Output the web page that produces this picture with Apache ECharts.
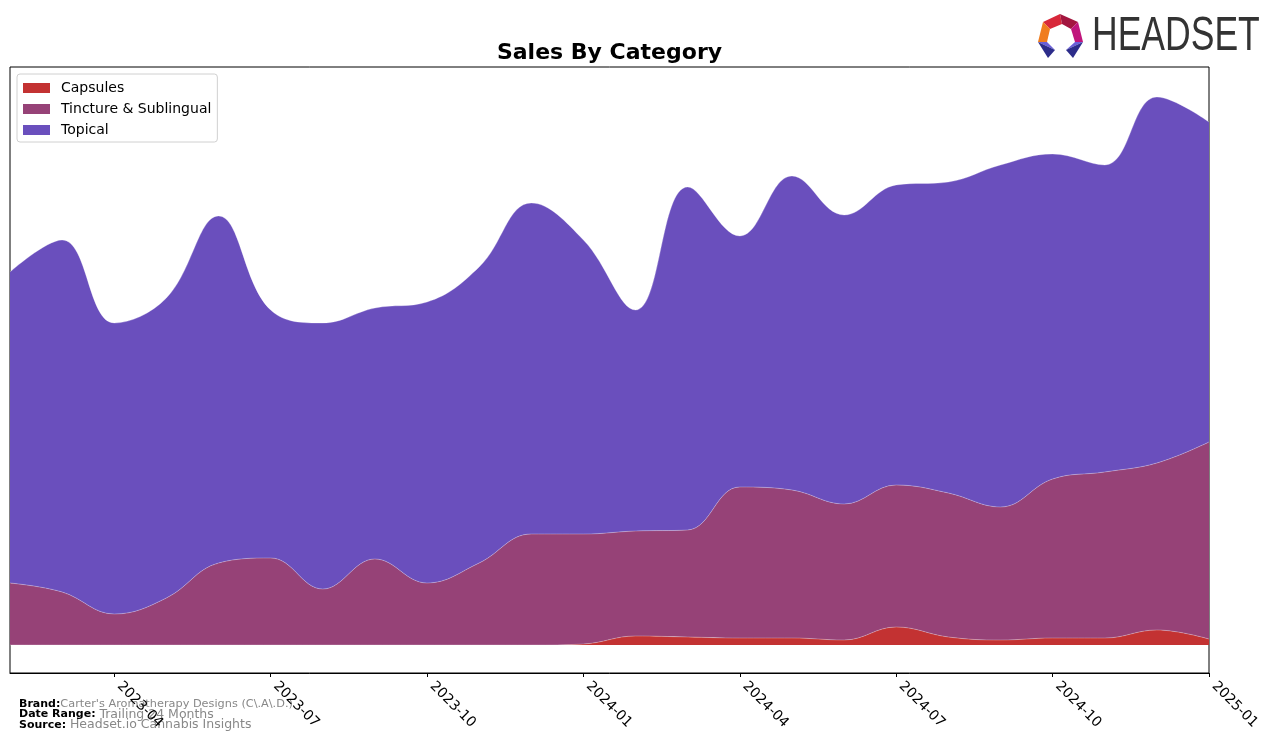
<!DOCTYPE html>
<html>
<head>
<meta charset="utf-8">
<script src="https://cdn.jsdelivr.net/npm/echarts@6/dist/echarts.min.js"></script>
<style>
html,body{margin:0;padding:0;background:#fff;}
#chart{width:1276px;height:743px;}
</style>
</head>
<body>
<div id="chart"></div>
<script>
// ---- data (monthly, arbitrary sales units) ----
const months = ['2023-02','2023-03','2023-04','2023-05','2023-06','2023-07','2023-08','2023-09','2023-10','2023-11','2023-12','2024-01','2024-02','2024-03','2024-04','2024-05','2024-06','2024-07','2024-08','2024-09','2024-10','2024-11','2024-12','2025-01'];
const capsules = [0,0,0,0,0,0,0,0,0,0,0,1,9,8,7,7,5,18,8,5,7,7,15,6];
const tincture = [62,53,31,47,82,87,56,86,62,82,111,110,105,107,151,148,136,142,144,133,159,166,167,197];
const topical  = [311,352,291,300,347,248,266,251,281,296,331,294,221,343,251,314,289,300,311,342,325,307,366,320];
const tickLabels = ['2023-04','2023-07','2023-10','2024-01','2024-04','2024-07','2024-10','2025-01'];
const seriesNames = ['Capsules','Tincture & Sublingual','Topical'];
const colors = ['#c33232','#964277','#6a4fbd'];

const showTick = (idx) => tickLabels.indexOf(months[idx]) >= 0;

const chart = echarts.init(document.getElementById('chart'), null, {renderer:'canvas'});
const font = 'DejaVu Sans';

const mkSeries = (name, arr, color) => ({
  name, type:'line', stack:'total', data: arr, smooth:0.4, symbol:'none',
  lineStyle:{width:0.8, color:'rgba(255,255,255,0.35)'},
  areaStyle:{color, opacity:1}, itemStyle:{color},
  emphasis:{disabled:true}
});

chart.setOption({
  animation:false,
  backgroundColor:'#fff',
  textStyle:{fontFamily:font},
  grid:{left:10, right:67, top:67, bottom:70, show:true, borderColor:'#000', borderWidth:1, backgroundColor:'transparent'},
  legend:{
    orient:'vertical', left:17, top:74, data:seriesNames,
    itemWidth:27, itemHeight:10, itemGap:5, icon:'rect',
    padding:[6,6,4,6],
    borderColor:'#d0d0d0', borderWidth:1, borderRadius:3, backgroundColor:'rgba(255,255,255,0.85)',
    textStyle:{fontFamily:font, fontSize:14, color:'#000', lineHeight:16, padding:[0,0,0,6]},
    selectedMode:false
  },
  xAxis:{
    type:'category', data:months, boundaryGap:false,
    axisLine:{show:true, onZero:false, lineStyle:{color:'#000', width:1}},
    axisTick:{show:true, interval:(i)=>showTick(i), length:4, lineStyle:{color:'#000'}},
    axisLabel:{interval:(i)=>showTick(i), rotate:-45, fontFamily:font, fontSize:14, color:'#000', margin:6, padding:[0,0,0,7]},
    splitLine:{show:false}
  },
  yAxis:{type:'value', min:-28, max:578, show:false},
  series:[
    mkSeries(seriesNames[0], capsules, colors[0]),
    mkSeries(seriesNames[1], tincture, colors[1]),
    mkSeries(seriesNames[2], topical, colors[2])
  ],
  graphic:[
    {type:'text', x:609.5, y:53.5, style:{text:'Sales By Category', font:'bold 22px "DejaVu Sans"', fill:'#000', align:'center', verticalAlign:'middle'}},
    {type:'text', x:19, y:714.5, style:{
      text:'{b|Brand:}{g1|Carter\'s Aromatherapy Designs (C\\.A\\.D.)}\n{b|Date Range: }{g2|Trailing 24 Months}\n{b|Source: }{g2|Headset.io Cannabis Insights}',
      verticalAlign:'middle', lineHeight:10.7,
      rich:{
        b:{font:'bold 11px "DejaVu Sans"', fill:'#000', lineHeight:10.7},
        g1:{font:'11.3px "DejaVu Sans"', fill:'#888', lineHeight:10.7},
        g2:{font:'12.5px "DejaVu Sans"', fill:'#888', lineHeight:10.7}
      }}},
    // logo icon
    {type:'polygon', shape:{points:[[1043,22],[1060,14],[1062,24],[1050,29]]}, style:{fill:'#d8283a'}},
    {type:'polygon', shape:{points:[[1060,14],[1078,22],[1071,29],[1062,24]]}, style:{fill:'#a3163f'}},
    {type:'polygon', shape:{points:[[1078,22],[1083,42],[1075,42],[1071,29]]}, style:{fill:'#c0157c'}},
    {type:'polygon', shape:{points:[[1043,22],[1050,29],[1047,42],[1038,42]]}, style:{fill:'#f07d1e'}},
    {type:'polygon', shape:{points:[[1038,42],[1047,42],[1055,50]]}, style:{fill:'#6a5fd8'}},
    {type:'polygon', shape:{points:[[1038,42],[1055,50],[1048,58]]}, style:{fill:'#2c2c8a'}},
    {type:'polygon', shape:{points:[[1083,42],[1075,42],[1066,50]]}, style:{fill:'#6a5fd8'}},
    {type:'polygon', shape:{points:[[1083,42],[1066,50],[1073,58]]}, style:{fill:'#2c2c8a'}},
    {type:'text', x:1092, y:37, scaleX:0.74, style:{text:'HEADSET', font:'48px "Liberation Sans"', fill:'#333', verticalAlign:'middle'}}
  ]
});
</script>
</body>
</html>
